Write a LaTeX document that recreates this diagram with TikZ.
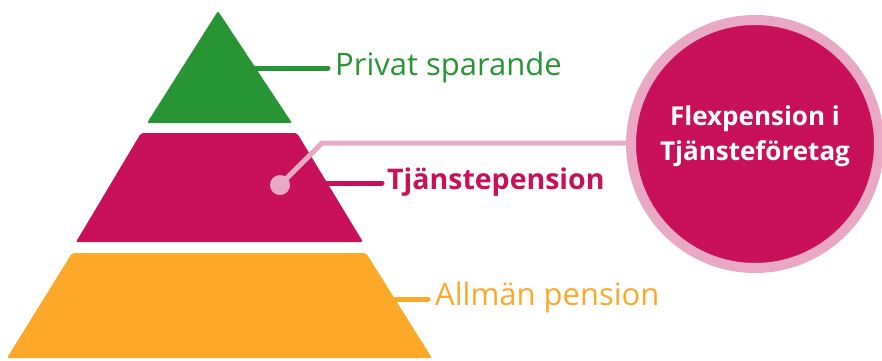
\documentclass[tikz,border=0pt]{standalone}
\usepackage{fontspec}
\setmainfont{Open Sans}
\definecolor{pgreen}{HTML}{279533}
\definecolor{ppink}{HTML}{C8115A}
\definecolor{porange}{HTML}{FDA829}
\definecolor{plight}{HTML}{E9A9C5}

\begin{document}
\begin{tikzpicture}[
    x=1pt, y=-1pt,
    tier/.style={rounded corners=2pt},
    lnk/.style={line width=5pt, line cap=round},
    lbl/.style={anchor=west, inner sep=0pt, font=\fontsize{31}{36}\selectfont},
    bubble/.style={circle, minimum size=248pt, fill=ppink, draw=plight, line width=10pt},
    bubtxt/.style={align=center, text=white, inner sep=0pt, font=\bfseries\fontsize{26}{35}\selectfont},
    dot/.style={circle, fill=plight, minimum size=20pt, inner sep=0pt},
]
\useasboundingbox (0,0) rectangle (882,360);

\fill[tier, pgreen] (218,11) -- (292,123) -- (147,123) -- cycle;
\fill[tier, ppink] (141,133) -- (297,133) -- (363,242) -- (76,242) -- cycle;
\fill[tier, porange] (72,253) -- (366,253) -- (432,358) -- (7,358) -- cycle;

\coordinate (gE) at (255,68);
\coordinate (pE) at (327,183);
\coordinate (oE) at (394,299);

\node[lbl, text=pgreen] (privat) at (335,67) {Privat sparande};
\node[lbl, text=ppink, font=\bfseries\fontsize{28.5}{34}\selectfont] (tjanst) at (387,182) {Tjänstepension};
\node[lbl, text=porange] (allman) at (435,297) {Allmän pension};

\draw[lnk, pgreen] (gE) -- ([xshift=-7pt]privat.west |- gE);
\draw[lnk, ppink] (pE) -- ([xshift=-5pt]tjanst.west |- pE);
\draw[lnk, porange] (oE) -- ([xshift=-7pt]allman.west |- oE);

\node[bubble] (flex) at (755,144) {};
\node[bubtxt] (flextxt) at ([yshift=8pt]flex.center) {Flexpension i\\Tjänsteföretag};

\node[dot] (spot) at (280,185) {};
\coordinate (bend) at (322,143);
\draw[lnk, plight, line cap=butt, line join=round] (spot.center) -- (bend) -- (flex.west |- bend);

\end{tikzpicture}
\end{document}
